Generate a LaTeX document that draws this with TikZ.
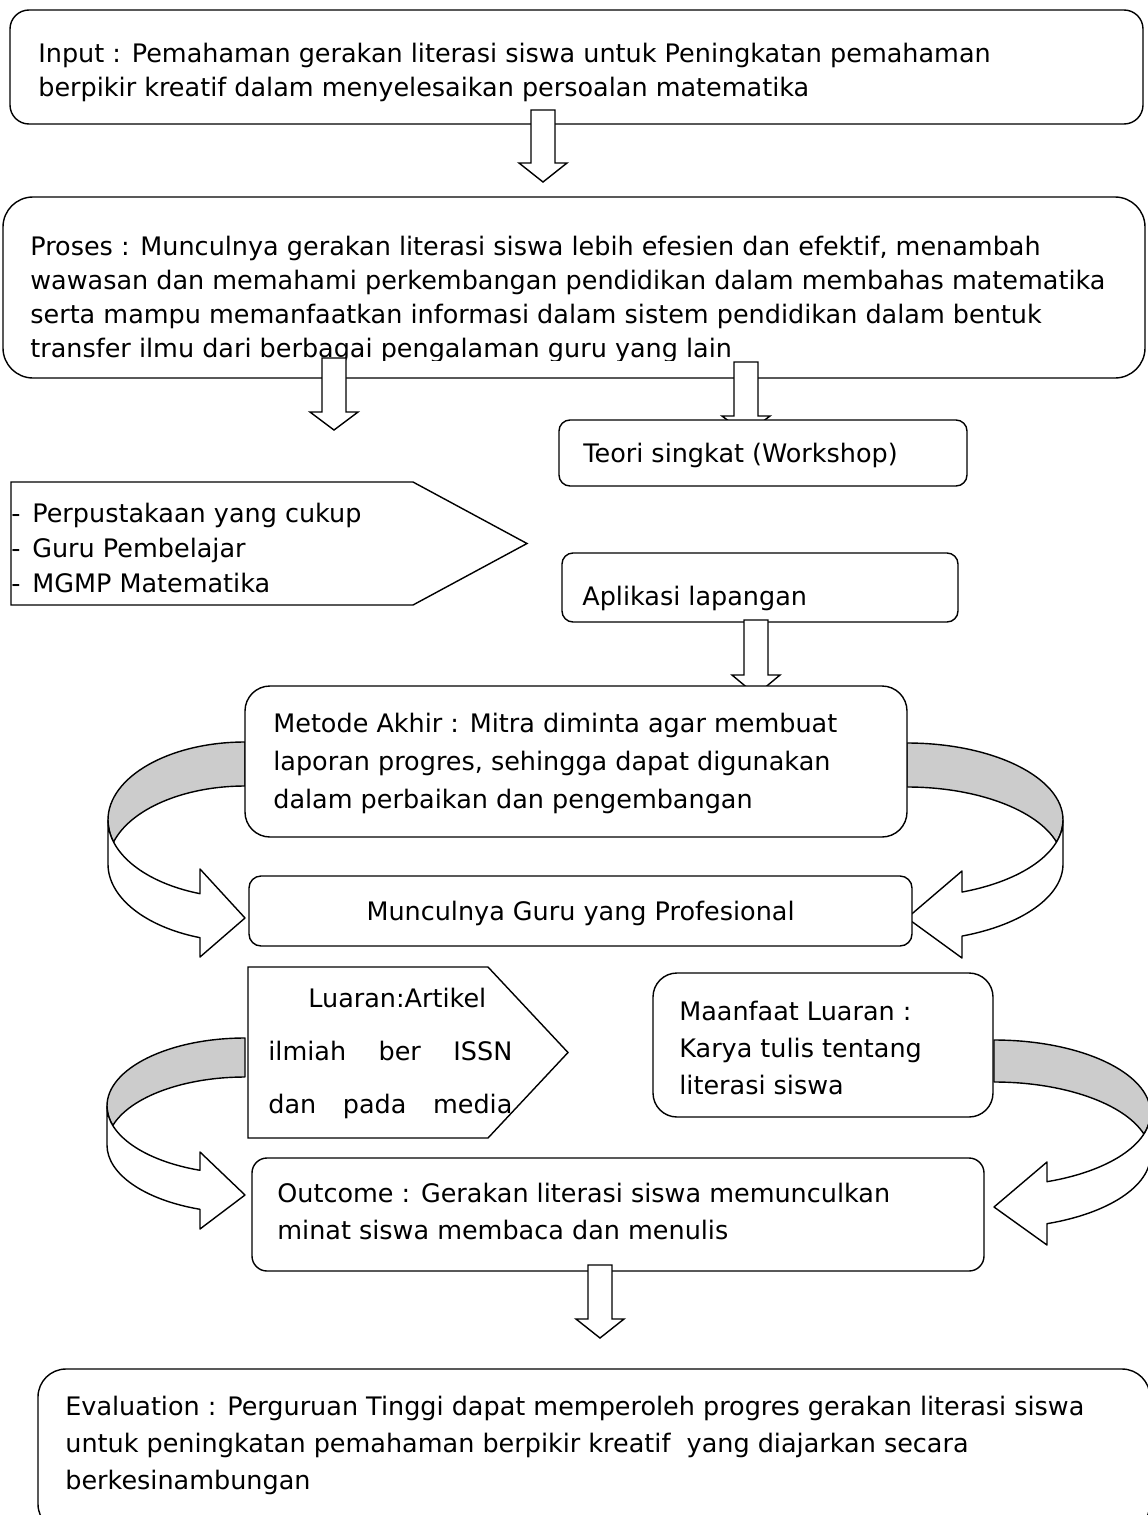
\documentclass[tikz,border=0pt]{standalone}
\usepackage{fontspec}
\setmainfont{DejaVu Sans}
\usetikzlibrary{fit}
\newdimen\px \px=0.02cm
\tikzset{
  box/.style={draw, fill=white, line width=0.8pt, inner sep=0pt, rounded corners=#1*0.02cm},
  blk/.style={draw, fill=white, line width=0.8pt},
  band/.style={draw, line width=0.8pt, line join=round},
  txt/.style={inner sep=0pt, anchor=base west, font=\fontsize{14.5pt}{18pt}\selectfont},
}
% text block, #1 = line distance in px
\newcommand\lines[2]{\parbox[t]{1120\px}{\fontsize{14.5pt}{#1\px}\selectfont #2}}
% block arrow pointing down: centre x, top, head, tip
\newcommand\blockdown[4]{%
  \draw[blk] (#1-12,#2) -- (#1+12,#2) -- (#1+12,#3) -- (#1+24,#3) -- (#1,#4)
    -- (#1-24,#3) -- (#1-12,#3) -- cycle;}
% curved block arrow: placement, rx, ry, thickness, shoulder dx, wing dy, wing dy, tip dy
\newcommand\bentarrow[8]{%
  \begin{scope}[#1]
    \pgfmathsetmacro\ai{asin(#4/2/#3)}
    \pgfmathsetmacro\as{acos(#5/#2)}
    \pgfmathsetmacro\ys{#3*sin(\as)}
    \filldraw[band, fill=black!20] (0,-#3)
      arc[start angle=-90, end angle=-180, x radius=#2, y radius=#3]
      arc[start angle=180, end angle=180-\ai, x radius=#2, y radius=#3]
      arc[start angle=180+\ai, end angle=270, x radius=#2, y radius=#3] -- cycle;
    \filldraw[band, fill=white] (-#2,0)
      arc[start angle=180, end angle=\as, x radius=#2, y radius=#3]
      -- (#5,#6) -- (0,#8) -- (#5,#7) -- (#5,#4+\ys)
      arc[start angle=\as, end angle=180, x radius=#2, y radius=#3] -- cycle;
  \end{scope}}

\begin{document}
\begin{tikzpicture}[x=0.02cm, y=-0.02cm]
  \useasboundingbox (0,0) rectangle (1148,1515);
  \clip (0,0) rectangle (1148,1515);

  % input
  \node[box=19, fit={(10,10) (1143,124)}] (input) {};
  \node[txt] (inputtxt) at (38,62) {\lines{34}{Input : Pemahaman gerakan literasi siswa untuk Peningkatan pemahaman\\
    berpikir kreatif dalam menyelesaikan persoalan matematika}};
  \blockdown{543}{110}{163}{182}

  % proses
  \node[box=30, fit={(3,197) (1145,378)}] (proses) {};
  \begin{scope}
    \clip (0,197) rectangle (1148,360);
    \node[txt] (prosestxt) at (30,255) {\lines{34}{Proses : Munculnya gerakan literasi siswa lebih efesien dan efektif, menambah\\
      wawasan dan memahami perkembangan pendidikan dalam membahas matematika\\
      serta mampu memanfaatkan informasi dalam sistem pendidikan dalam bentuk\\
      transfer ilmu dari berbagai pengalaman guru yang lain}};
  \end{scope}
  \blockdown{334}{358}{412}{430}
  \blockdown{746}{362}{416}{434}

  % workshop
  \node[box=11, fit={(559,420) (967,486)}] (teori) {};
  \node[txt] (teoritxt) at (583,462) {Teori singkat (Workshop)};

  % sarana
  \draw[blk] (11,482) -- (413,482) -- (527,543.5) -- (413,605) -- (11,605) -- cycle;
  \node[txt] (saranatxt) at (11,522) {\lines{35}{\makebox[21\px][l]{-}Perpustakaan yang cukup\\
    \makebox[21\px][l]{-}Guru Pembelajar\\
    \makebox[21\px][l]{-}MGMP Matematika}};

  % aplikasi
  \node[box=11, fit={(562,553) (958,622)}] (aplikasi) {};
  \node[txt] (aplikasitxt) at (582,605) {Aplikasi lapangan};
  \blockdown{756}{620}{675}{695}

  % metode akhir
  \bentarrow{shift={(245,820)}}{137}{78}{44}{-45}{49}{137}{98}
  \bentarrow{shift={(907,820)}, xscale=-1}{156}{77}{44}{-55}{51}{138}{98}
  \node[box=25, fit={(245,686) (907,837)}] (metode) {};
  \node[txt] (metodetxt) at (273,732) {\lines{38}{Metode Akhir : Mitra diminta agar membuat\\
    laporan progres, sehingga dapat digunakan\\
    dalam perbaikan dan pengembangan}};
  \node[box=12, fit={(249,876) (912,946)}] (guru) {};
  \node[txt, anchor=base] (gurutxt) at (580.5,920) {Munculnya Guru yang Profesional};

  % luaran
  \bentarrow{shift={(245,1106)}}{138}{68}{39}{-45}{46}{123}{89}
  \bentarrow{shift={(994,1113)}, xscale=-1}{156.5}{73}{42}{-53}{49}{132}{94}
  \draw[blk] (248,967) -- (488,967) -- (568,1052.5) -- (488,1138) -- (248,1138) -- cycle;
  \node[txt] (luarantxt) at (308,1007) {Luaran:Artikel};
  \node[txt] (luarantxtb) at (268,1060) {\makebox[244\px][s]{ilmiah ber ISSN}};
  \node[txt] (luarantxtc) at (268,1113) {\makebox[244\px][s]{dan pada media}};
  \node[box=24, fit={(653,973) (993,1117)}] (manfaat) {};
  \node[txt] (manfaattxt) at (679,1020) {\lines{37}{Maanfaat Luaran :\\
    Karya tulis tentang\\
    literasi siswa}};

  % outcome
  \node[box=15, fit={(252,1158) (984,1271)}] (outcome) {};
  \node[txt] (outcometxt) at (277,1202) {\lines{37}{Outcome : Gerakan literasi siswa memunculkan\\
    minat siswa membaca dan menulis}};
  \blockdown{600}{1265}{1319}{1338}

  % evaluation
  \node[box=28, fit={(38,1369) (1150,1532)}] (eval) {};
  \node[txt] (evaltxt) at (65,1415) {\lines{37}{Evaluation : Perguruan Tinggi dapat memperoleh progres gerakan literasi siswa\\
    untuk peningkatan pemahaman berpikir kreatif\ \ yang diajarkan secara\\
    berkesinambungan}};
\end{tikzpicture}
\end{document}
